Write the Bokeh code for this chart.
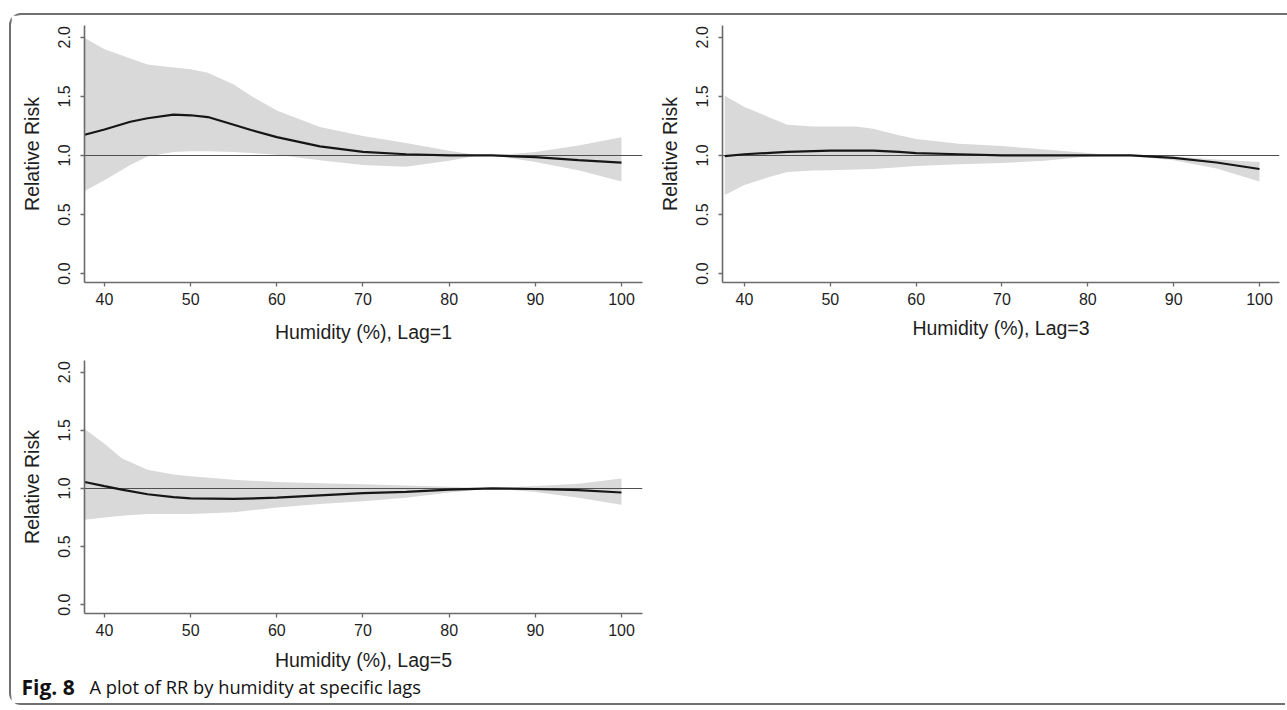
from bokeh.plotting import figure
from bokeh.models import Range1d, FixedTicker, NumeralTickFormatter, Label
from bokeh.layouts import column, row
from bokeh.embed import file_html
from bokeh.resources import INLINE

# ---------------- data ----------------
x_ticks = [40, 50, 60, 70, 80, 90, 100]
y_ticks = [0.0, 0.5, 1.0, 1.5, 2.0]
reference_rr = 1.0

lag1_x = [37.7, 40, 43, 45, 48, 50, 52, 55, 57, 60, 65, 70, 75, 80, 83, 85, 90, 95, 100]
lag1_rr = [1.175, 1.22, 1.285, 1.315, 1.345, 1.34, 1.325, 1.26, 1.215, 1.155, 1.077, 1.03, 1.01, 1.0, 1.0, 1.0, 0.985, 0.96, 0.94]
lag1_hi = [1.995, 1.90, 1.82, 1.77, 1.745, 1.73, 1.70, 1.60, 1.505, 1.38, 1.24, 1.165, 1.105, 1.04, 1.005, 1.0, 1.03, 1.085, 1.155]
lag1_lo = [0.70, 0.79, 0.92, 0.99, 1.03, 1.035, 1.035, 1.03, 1.02, 1.005, 0.96, 0.92, 0.905, 0.955, 0.995, 1.0, 0.945, 0.875, 0.78]

lag3_x = [37.7, 40, 43, 45, 48, 50, 53, 55, 58, 60, 65, 70, 75, 80, 83, 85, 90, 95, 100]
lag3_rr = [0.995, 1.01, 1.022, 1.03, 1.037, 1.04, 1.04, 1.04, 1.03, 1.02, 1.01, 1.0, 1.0, 1.0, 1.0, 1.0, 0.98, 0.94, 0.885]
lag3_hi = [1.505, 1.41, 1.32, 1.26, 1.245, 1.245, 1.245, 1.225, 1.17, 1.14, 1.10, 1.08, 1.05, 1.02, 1.0, 1.0, 0.99, 0.965, 0.945]
lag3_lo = [0.665, 0.75, 0.82, 0.86, 0.872, 0.875, 0.88, 0.885, 0.90, 0.91, 0.925, 0.935, 0.955, 0.99, 1.0, 0.995, 0.96, 0.89, 0.78]

lag5_x = [37.7, 40, 42, 45, 48, 50, 55, 60, 65, 70, 75, 80, 85, 90, 95, 100]
lag5_rr = [1.055, 1.02, 0.99, 0.95, 0.925, 0.915, 0.91, 0.92, 0.94, 0.96, 0.97, 0.99, 1.0, 0.995, 0.985, 0.965]
lag5_hi = [1.51, 1.385, 1.26, 1.16, 1.12, 1.105, 1.075, 1.055, 1.045, 1.035, 1.025, 1.015, 1.0, 1.02, 1.04, 1.085]
lag5_lo = [0.73, 0.75, 0.765, 0.78, 0.78, 0.78, 0.795, 0.835, 0.865, 0.89, 0.92, 0.965, 1.0, 0.97, 0.92, 0.86]

x_titles = ["Humidity (%), Lag=1", "Humidity (%), Lag=3", "Humidity (%), Lag=5"]
y_title = "Relative Risk"
caption_bold = "Fig. 8"
caption_text = "A plot of RR by humidity at specific lags"

# ---------------- styling ----------------
AXIS_COLOR = "#6a6a6a"
TEXT_COLOR = "#1e1e1e"
BAND_COLOR = "#d9d9d9"
FONT = "Liberation Sans"
FRAME = "2px solid #707070"


def panel(xs, rr, lo, hi, title, width, height, mb_left, mb_right, mb_top, mb_bottom,
          x_start, x_end, title_standoff, label_standoff):
    p = figure(width=width, height=height, output_backend="svg", toolbar_location=None,
               x_range=Range1d(x_start, x_end), y_range=Range1d(-0.0756, 2.10),
               min_border_left=mb_left, min_border_right=mb_right,
               min_border_top=mb_top, min_border_bottom=mb_bottom,
               background_fill_color="white", border_fill_color="white")
    p.outline_line_color = None
    p.grid.visible = False

    p.varea(x=xs, y1=lo, y2=hi, fill_color=BAND_COLOR, fill_alpha=1.0)
    p.hspan(y=[reference_rr], line_color="#505050", line_width=1.1)
    p.line(x=xs, y=rr, line_color="#161616", line_width=2.2)

    for ax in (p.xaxis[0], p.yaxis[0]):
        ax.axis_line_color = AXIS_COLOR
        ax.axis_line_width = 1.6
        ax.major_tick_line_color = AXIS_COLOR
        ax.major_tick_line_width = 1.3
        ax.major_tick_in = 0
        ax.major_tick_out = 4
        ax.minor_tick_line_color = None
        ax.major_label_text_font = FONT
        ax.major_label_text_font_size = "16px"
        ax.major_label_text_color = TEXT_COLOR
        ax.axis_label_text_font = FONT
        ax.axis_label_text_font_size = "19.5px"
        ax.axis_label_text_font_style = "normal"
        ax.axis_label_text_color = TEXT_COLOR

    p.xaxis.ticker = FixedTicker(ticks=x_ticks)
    p.xaxis.axis_label = title
    p.xaxis.major_label_standoff = label_standoff
    p.xaxis.axis_label_standoff = title_standoff

    p.yaxis.ticker = FixedTicker(ticks=y_ticks)
    p.yaxis.formatter = NumeralTickFormatter(format="0.0")
    p.yaxis.major_label_orientation = "vertical"
    p.yaxis.major_label_standoff = 10
    p.yaxis.axis_label = y_title
    p.yaxis.axis_label_standoff = 13
    return p


p1 = panel(lag1_x, lag1_rr, lag1_lo, lag1_hi, x_titles[0], 639, 330, 73, 8, 10, 61,
           37.68, 102.44, 13, 6)
p2 = panel(lag3_x, lag3_rr, lag3_lo, lag3_hi, x_titles[1], 637, 330, 72, 8, 10, 61,
           37.44, 102.33, 9, 6)
p3 = panel(lag5_x, lag5_rr, lag5_lo, lag5_hi, x_titles[2], 639, 328, 73, 8, 15, 54,
           37.68, 102.44, 10, 6)

# caption strip, a separate root so that its frame is not aligned with the panels
cap = figure(width=1276, height=32, output_backend="svg", toolbar_location=None,
             x_range=Range1d(0, 1276), y_range=Range1d(0, 32),
             min_border=0, min_border_left=0, min_border_right=0,
             min_border_top=0, min_border_bottom=0,
             x_axis_location=None, y_axis_location=None,
             background_fill_color="white", border_fill_color="white",
             styles={"margin-left": "9px", "border-left": FRAME,
                     "border-bottom": FRAME,
                     "border-bottom-left-radius": "12px"})
cap.outline_line_color = None
cap.grid.visible = False
cap.add_layout(Label(x=10, y=19, text=caption_bold, text_font="Open Sans",
                     text_font_style="bold", text_font_size="21px",
                     text_color="#111111", text_baseline="middle", text_align="left"))
cap.add_layout(Label(x=78, y=19, text=caption_text, text_font="Open Sans",
                     text_font_style="normal", text_font_size="18.3px",
                     text_color="#111111", text_baseline="middle", text_align="left"))

root = column(row(p1, p2), p3,
              styles={"margin-left": "9px", "margin-top": "13px",
                      "border-left": FRAME,
                      "border-top": FRAME,
                      "border-top-left-radius": "12px"})

open("out.html", "w").write(file_html([root, cap], INLINE))
